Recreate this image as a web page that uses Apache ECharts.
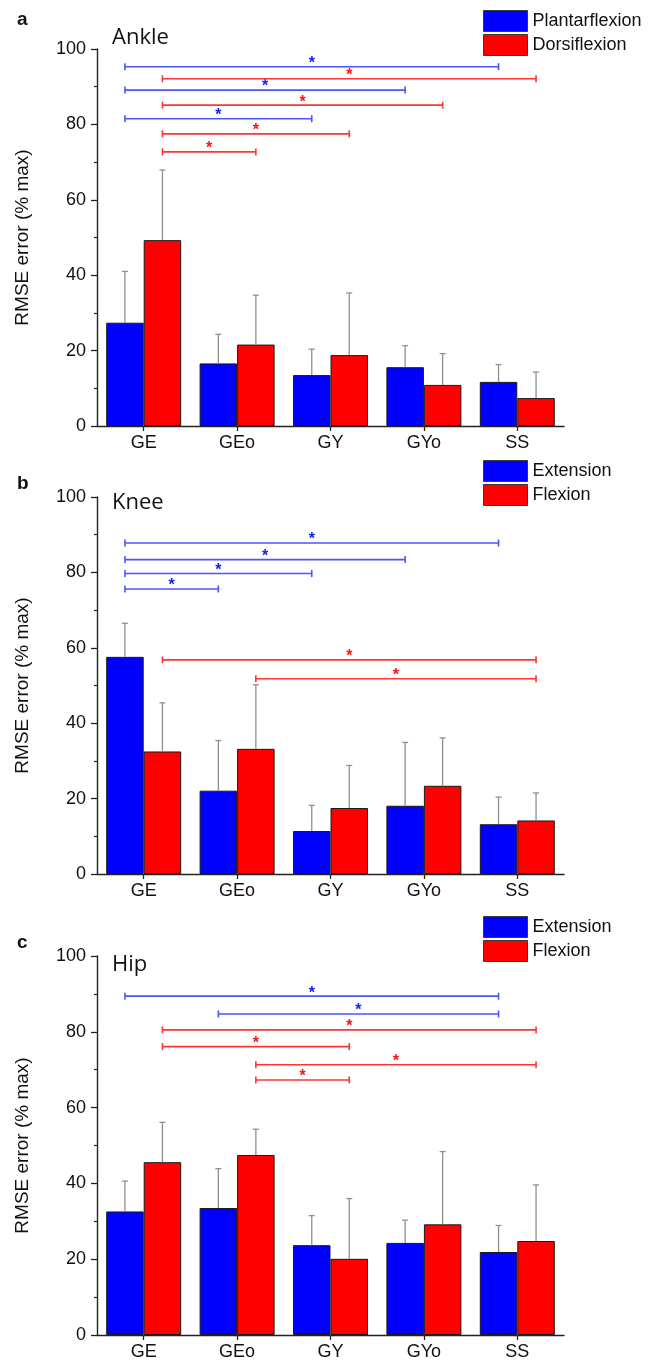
<!DOCTYPE html>
<html>
<head>
<meta charset="utf-8">
<script src="https://cdn.jsdelivr.net/npm/echarts@6.0.0/dist/echarts.min.js"></script>
<style>
html,body{margin:0;padding:0;background:#ffffff;}
#chart{width:654px;height:1366px;}
</style>
</head>
<body>
<div id="chart"></div>
<script>
// ---------- data ----------
const categories = ['GE', 'GEo', 'GY', 'GYo', 'SS'];
const panelLetters = ['a', 'b', 'c'];
const panelTitles = ['Ankle', 'Knee', 'Hip'];
const yAxisName = 'RMSE error (% max)';
const yMin = 0, yMax = 100, yStep = 20;

const ankleNames = ['Plantarflexion', 'Dorsiflexion'];
const ankleBlue   = [27.4, 16.6, 13.5, 15.6, 11.7];
const ankleBlueSD = [13.6, 7.7, 6.9, 5.7, 4.6];
const ankleRed    = [49.3, 21.6, 18.8, 10.9, 7.4];
const ankleRedSD  = [18.6, 13.1, 16.5, 8.3, 6.9];
// significance brackets: [fromCategory, toCategory, level]
const ankleBlueSig = [[0, 4, 95.3], [0, 3, 89.1], [0, 2, 81.5]];
const ankleRedSig  = [[0, 4, 92.1], [0, 3, 85.1], [0, 2, 77.5], [0, 1, 72.7]];

const kneeNames = ['Extension', 'Flexion'];
const kneeBlue   = [57.6, 22.1, 11.4, 18.1, 13.2];
const kneeBlueSD = [8.9, 13.3, 6.8, 16.8, 7.2];
const kneeRed    = [32.5, 33.2, 17.5, 23.4, 14.2];
const kneeRedSD  = [12.9, 17.0, 11.3, 12.7, 7.3];
const kneeBlueSig = [[0, 4, 87.8], [0, 3, 83.4], [0, 2, 79.7], [0, 1, 75.6]];
const kneeRedSig  = [[0, 4, 56.8], [1, 4, 51.8]];

const hipNames = ['Extension', 'Flexion'];
const hipBlue   = [32.6, 33.5, 23.7, 24.3, 21.9];
const hipBlueSD = [8.0, 10.4, 7.8, 6.0, 7.0];
const hipRed    = [45.6, 47.5, 20.1, 29.2, 24.8];
const hipRedSD  = [10.5, 6.8, 15.9, 19.2, 14.8];
const hipBlueSig = [[0, 4, 89.4], [1, 4, 84.7]];
const hipRedSig  = [[0, 4, 80.5], [0, 2, 76.1], [1, 4, 71.3], [1, 2, 67.3]];

// ---------- layout / style ----------
const FONT = '"Liberation Sans", Arial, sans-serif';
const BLUE = '#0000ff', RED = '#ff0000';
const BLUE_SIG = '#4a55ff', RED_SIG = '#ff3535';
const GAP_FRAC = 0.197;                 // barCategoryGap
const SHIFT = (1 - GAP_FRAC) / 4;       // bar centre offset as fraction of band
const grids = [
  {left: 97, width: 467, top: 49, height: 377},
  {left: 97, width: 467, top: 497, height: 377},
  {left: 97, width: 467, top: 956, height: 379}
];
const legendTops = [10, 460, 916];
const letterTops = [10, 474, 933];
const titleTops = [27, 492, 954];

const panels = [
  {names: ankleNames, blue: ankleBlue, blueSD: ankleBlueSD, red: ankleRed, redSD: ankleRedSD, blueSig: ankleBlueSig, redSig: ankleRedSig},
  {names: kneeNames, blue: kneeBlue, blueSD: kneeBlueSD, red: kneeRed, redSD: kneeRedSD, blueSig: kneeBlueSig, redSig: kneeRedSig},
  {names: hipNames, blue: hipBlue, blueSD: hipBlueSD, red: hipRed, redSD: hipRedSD, blueSig: hipBlueSig, redSig: hipRedSig}
];

function errorSeries(gi, means, sds, side) {
  return {
    type: 'custom', xAxisIndex: gi, yAxisIndex: gi, z: 3, silent: true,
    encode: {x: 0, y: [1, 2]},
    data: means.map((m, i) => [i, m, m + sds[i]]),
    renderItem: function (params, api) {
      const band = api.size([1, 0])[0];
      const top = api.coord([api.value(0), api.value(2)]);
      const base = api.coord([api.value(0), api.value(1)]);
      const x = top[0] + side * band * SHIFT;
      const st = {stroke: '#909090', lineWidth: 1.3};
      return {type: 'group', children: [
        {type: 'line', shape: {x1: x, y1: base[1], x2: x, y2: top[1]}, style: st},
        {type: 'line', shape: {x1: x - 3, y1: top[1], x2: x + 3, y2: top[1]}, style: st}
      ]};
    }
  };
}

function sigSeries(gi, sig, side, lineColor, starColor) {
  return {
    type: 'custom', xAxisIndex: gi, yAxisIndex: gi, z: 4, silent: true,
    encode: {x: [0, 1], y: 2},
    data: sig,
    renderItem: function (params, api) {
      const band = api.size([1, 0])[0];
      const a = api.coord([api.value(0), api.value(2)]);
      const b = api.coord([api.value(1), api.value(2)]);
      const x1 = a[0] + side * band * SHIFT;
      const x2 = b[0] + side * band * SHIFT;
      const y = a[1];
      const st = {stroke: lineColor, lineWidth: 1.6};
      return {type: 'group', children: [
        {type: 'line', shape: {x1: x1, y1: y, x2: x2, y2: y}, style: st},
        {type: 'line', shape: {x1: x1, y1: y - 3.5, x2: x1, y2: y + 3.5}, style: st},
        {type: 'line', shape: {x1: x2, y1: y - 3.5, x2: x2, y2: y + 3.5}, style: st},
        {type: 'text', x: (x1 + x2) / 2, y: y - 3, style: {
          text: '*', fill: starColor, font: 'bold 16px ' + FONT,
          textAlign: 'center', textVerticalAlign: 'middle'}}
      ]};
    }
  };
}

const option = {
  backgroundColor: '#ffffff',
  animation: false,
  textStyle: {fontFamily: FONT},
  title: [],
  legend: [],
  grid: grids,
  xAxis: [],
  yAxis: [],
  series: []
};

panels.forEach((p, gi) => {
  option.title.push({
    text: panelLetters[gi], left: 17, top: letterTops[gi], padding: 0,
    textStyle: {fontFamily: FONT, fontSize: 19, fontWeight: 'bold', color: '#111'}
  });
  option.title.push({
    text: panelTitles[gi], left: 112, top: titleTops[gi], padding: 0,
    textStyle: {fontFamily: '"Open Sans", sans-serif', fontSize: 22, fontWeight: 'normal', color: '#111'}
  });
  option.legend.push({
    data: p.names, orient: 'vertical', left: 483, top: legendTops[gi], padding: 0,
    itemWidth: 44, itemHeight: 21, itemGap: 2, icon: 'rect', selectedMode: false,
    itemStyle: {borderColor: '#3a3a3a', borderWidth: 1},
    textStyle: {fontFamily: FONT, fontSize: 18, color: '#111', padding: [0, 0, 0, 0]}
  });
  option.xAxis.push({
    type: 'category', gridIndex: gi, data: categories,
    axisLine: {show: true, lineStyle: {color: '#222', width: 1.4}},
    axisTick: {show: true, alignWithLabel: true, length: 5, lineStyle: {color: '#222', width: 1.3}},
    axisLabel: {fontFamily: FONT, fontSize: 18, color: '#111', margin: 8},
    splitLine: {show: false}
  });
  option.yAxis.push({
    type: 'value', gridIndex: gi, min: yMin, max: yMax, interval: yStep,
    name: yAxisName, nameLocation: 'middle', nameGap: 65, nameRotate: 90,
    nameTextStyle: {fontFamily: FONT, fontSize: 19, color: '#111'},
    axisLine: {show: true, lineStyle: {color: '#222', width: 1.4}},
    axisTick: {show: true, length: 6, lineStyle: {color: '#222', width: 1.3}},
    minorTick: {show: true, splitNumber: 2, length: 3, lineStyle: {color: '#222', width: 1.2}},
    axisLabel: {fontFamily: FONT, fontSize: 18, color: '#111', margin: 11},
    splitLine: {show: false}
  });
  option.series.push({
    type: 'bar', name: p.names[0], xAxisIndex: gi, yAxisIndex: gi, data: p.blue,
    barGap: '0%', barCategoryGap: (GAP_FRAC * 100) + '%',
    itemStyle: {color: BLUE, borderColor: '#1a1a1a', borderWidth: 1}
  });
  option.series.push({
    type: 'bar', name: p.names[1], xAxisIndex: gi, yAxisIndex: gi, data: p.red,
    barGap: '0%', barCategoryGap: (GAP_FRAC * 100) + '%',
    itemStyle: {color: RED, borderColor: '#1a1a1a', borderWidth: 1}
  });
  option.series.push(errorSeries(gi, p.blue, p.blueSD, -1));
  option.series.push(errorSeries(gi, p.red, p.redSD, 1));
  option.series.push(sigSeries(gi, p.blueSig, -1, BLUE_SIG, '#1020ff'));
  option.series.push(sigSeries(gi, p.redSig, 1, RED_SIG, '#ff1010'));
});

const chart = echarts.init(document.getElementById('chart'), null, {renderer: 'canvas'});
chart.setOption(option);
</script>
</body>
</html>
